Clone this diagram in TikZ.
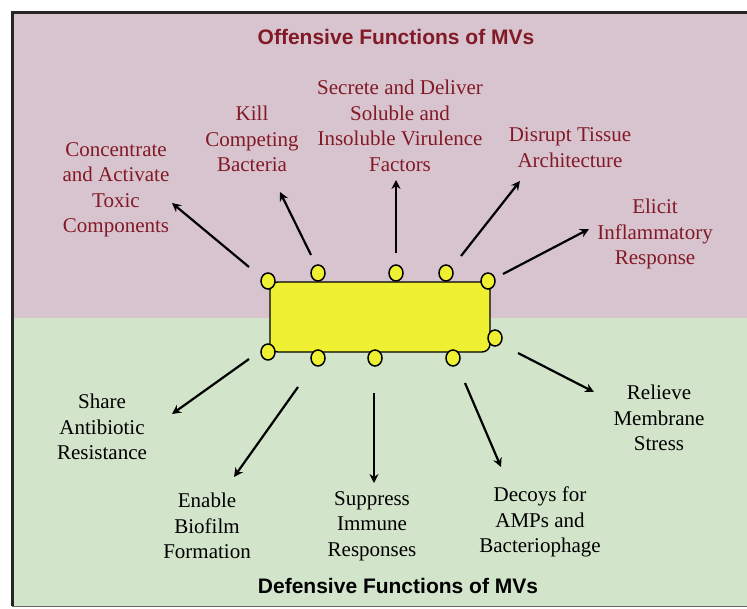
\documentclass[tikz,border=0pt]{standalone}
\usepackage{fontspec}
\setmainfont{Liberation Serif}
\setsansfont{Liberation Sans}
\usetikzlibrary{arrows.meta,shapes.geometric}
\definecolor{pinkbg}{RGB}{216,196,207}
\definecolor{greenbg}{RGB}{210,228,202}
\definecolor{offred}{RGB}{130,25,38}
\definecolor{mvyellow}{RGB}{240,240,50}
\begin{document}
\begin{tikzpicture}[x=1pt,y=-1pt,
  lbl/.style={align=center, font=\fontsize{21}{25.5}\selectfont, inner sep=0pt},
  offlbl/.style={lbl, text=offred},
  deflbl/.style={lbl, text=black},
  ttl/.style={font=\sffamily\bfseries\fontsize{21}{25}\selectfont, inner sep=0pt},
  arr/.style={-{Stealth[length=9pt,width=9pt,inset=3pt]}, line width=2.2pt},
  bleb/.style={ellipse, draw=black, fill=mvyellow, line width=1.5pt, minimum width=14pt, minimum height=16pt, inner sep=0pt},
  cell/.style={draw=black, fill=mvyellow, line width=1.4pt, rounded corners=8pt}]
\useasboundingbox (0,0) rectangle (747,608);
\fill[white] (0,0) rectangle (747,608);
% background panels
\fill[pinkbg] (12,12) rectangle (747,318);
\fill[greenbg] (12,318) rectangle (747,606);
\draw[line width=3pt, black!85] (12,606) -- (12,12) -- (747,12);
\draw[line width=1.2pt, black!60] (12,606.5) -- (747,606.5);
% titles
\node[ttl, text=offred] (toff) at (396,37) {Offensive Functions of MVs};
\node[ttl, text=black] (tdef) at (398,586) {Defensive Functions of MVs};
% cell
\draw[cell] (270,282) rectangle (490,352);
\node[bleb] (b1) at (268,281) {};
\node[bleb] (b2) at (318,273) {};
\node[bleb] (b3) at (396,273) {};
\node[bleb] (b4) at (446,273) {};
\node[bleb] (b5) at (488,281) {};
\node[bleb] (b6) at (268,352) {};
\node[bleb] (b7) at (318,358) {};
\node[bleb] (b8) at (375,358) {};
\node[bleb] (b9) at (453,358) {};
\node[bleb] (b10) at (495,338) {};
% offensive labels
\node[offlbl] (o1) at (116,190) {Concentrate\\and Activate\\Toxic\\Components};
\node[offlbl] (o2) at (252,139) {Kill\\Competing\\Bacteria};
\node[offlbl] (o3) at (400,126) {Secrete and Deliver\\Soluble and\\Insoluble Virulence\\Factors};
\node[offlbl] (o4) at (570,147.5) {Disrupt Tissue\\Architecture};
\node[offlbl] (o5) at (655,234) {Elicit\\Inflammatory\\Response};
% defensive labels
\node[deflbl] (d1) at (102,427) {Share\\Antibiotic\\Resistance};
\node[deflbl] (d2) at (207,526) {Enable\\Biofilm\\Formation};
\node[deflbl] (d3) at (372,526) {Suppress\\Immune\\Responses};
\node[deflbl] (d4) at (540,522) {Decoys for\\AMPs and\\Bacteriophage};
\node[deflbl] (d5) at (659,418) {Relieve\\Membrane\\Stress};
% arrow end points
\coordinate (s1) at (249,267); \coordinate (e1) at (172,203);
\coordinate (s2) at (311,255); \coordinate (e2) at (280,192);
\coordinate (s3) at (396,253); \coordinate (e3) at (396,180);
\coordinate (s4) at (461,256); \coordinate (e4) at (520,181);
\coordinate (s5) at (503,274); \coordinate (e5) at (589,229);
\coordinate (s6) at (249,359); \coordinate (e6) at (172,414);
\coordinate (s7) at (298,387); \coordinate (e7) at (234,477);
\coordinate (s8) at (374,393); \coordinate (e8) at (374,483);
\coordinate (s9) at (465,383); \coordinate (e9) at (501,467);
\coordinate (s10) at (518,353); \coordinate (e10) at (594,392);
\foreach \i in {1,...,10} { \draw[arr] (s\i) -- (e\i); }
\end{tikzpicture}
\end{document}
